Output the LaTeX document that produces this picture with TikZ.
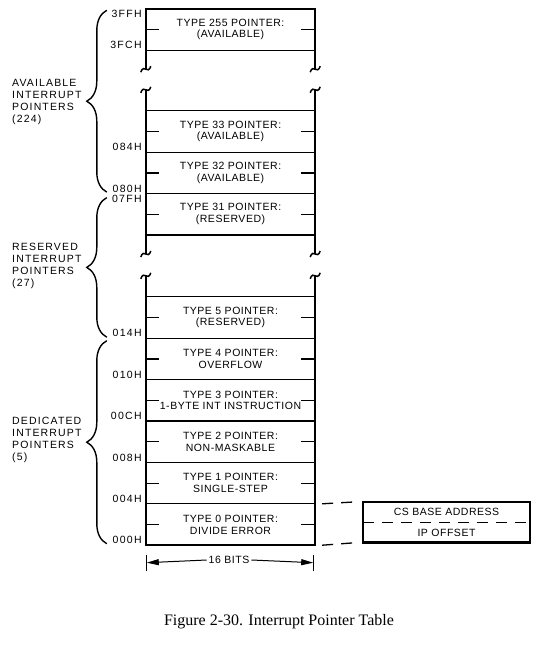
\documentclass[tikz,border=0pt]{standalone}
\usepackage{fontspec}
\setmainfont{Liberation Serif}
\setsansfont{Liberation Sans}[LetterSpace=5]
\usetikzlibrary{arrows.meta, positioning, decorations.pathreplacing}

\begin{document}
\begin{tikzpicture}[
			x=1pt, y=-1pt,
			every node/.style={font=\sffamily\fontsize{10.5}{11.8}\selectfont},
			slot/.style={minimum width=169pt, minimum height=41pt,
				inner sep=0pt, align=center},
			addr/.style={inner sep=1pt,
				font=\sffamily\fontsize{10.5}{11.8}\selectfont\addfontfeature{LetterSpace=12}},
			grp/.style={anchor=west, align=left, inner sep=0pt,
				font=\sffamily\fontsize{10.5}{11.8}\selectfont\addfontfeature{LetterSpace=11}},
			frame/.style={line width=2.4pt},
			rowline/.style={line width=1.2pt},
			brk/.style={line width=1.5pt},
			brc/.style={decorate, decoration={brace, amplitude=20pt},
				line width=1.4pt},
			dsh/.style={line width=1.3pt, dash pattern=on 11pt off 8pt},
			arr/.style={-{Triangle[length=12pt, width=6pt]}, line width=1pt},
			pics/brkmark/.style={code={
					\draw[brk] (-5,3) .. controls (-4,-1) and (-1,-1.5) .. (0,0)
					.. controls (1,1.5) and (4,1) .. (5,-3);}},
			]
			\useasboundingbox (0,0) rectangle (540,646);
			% =============================================================
			%  POINTER SLOTS
			% =============================================================
			% --- top of table ---
			\node[slot] (s255) at (230.5,29.5) {TYPE 255 POINTER:\\(AVAILABLE)};

			% --- available ---
			\node[slot] (s33) at (230.5,131.5) {TYPE 33 POINTER:\\(AVAILABLE)};
			\node[slot, below=0pt of s33] (s32) {TYPE 32 POINTER:\\(AVAILABLE)};

			% --- reserved ---
			\node[slot, below=0pt of s32] (s31) {TYPE 31 POINTER:\\(RESERVED)};
			\node[slot] (s5) at (230.5,317.5) {TYPE 5 POINTER:\\(RESERVED)};

			% --- dedicated ---
			\node[slot, below=0pt of s5] (s4) {TYPE 4 POINTER:\\OVERFLOW};
			\node[slot, below=0pt of s4] (s3) {TYPE 3 POINTER:\\1-BYTE INT INSTRUCTION};
			\node[slot, below=0pt of s3] (s2) {TYPE 2 POINTER:\\NON-MASKABLE};
			\node[slot, below=0pt of s2] (s1) {TYPE 1 POINTER:\\SINGLE-STEP};
			\node[slot, below=0pt of s1] (s0) {TYPE 0 POINTER:\\DIVIDE ERROR};

			% ---- FRAME with breaks ----
			\coordinate (bkL1) at ([yshift=-19pt]s255.south west);
			\coordinate (bkR1) at ([yshift=-19pt]s255.south east);
			\coordinate (bkL2) at ([yshift=21pt]s33.north west);
			\coordinate (bkR2) at ([yshift=21pt]s33.north east);
			\coordinate (bkL3) at ([yshift=-19pt]s31.south west);
			\coordinate (bkR3) at ([yshift=-19pt]s31.south east);
			\coordinate (bkL4) at ([yshift=21pt]s5.north west);
			\coordinate (bkR4) at ([yshift=21pt]s5.north east);

			\draw[frame] (bkL1) -- (s255.north west) -- (s255.north east) -- (bkR1);
			\draw[frame] (bkL2) -- (bkL3);
			\draw[frame] (bkR2) -- (bkR3);
			\draw[frame] (bkL4) -- (s0.south west) -- (s0.south east) -- (bkR4);
			\foreach \b in {bkL1,bkR1,bkL2,bkR2,bkL3,bkR3,bkL4,bkR4}
			\pic at (\b) {brkmark};

			% ---- row lines and mid ticks ----
			\draw[rowline] (s33.north west) -- (s33.north east);
			\draw[rowline] (s5.north west) -- (s5.north east);
			\foreach \n in {s255,s33,s32,s31,s5,s4,s3,s2,s1}
			\draw[rowline] (\n.south west) -- (\n.south east);
			\foreach \n in {s255,s33,s32,s31,s5,s4,s3,s2,s1,s0} {
				\draw[rowline] (\n.west) -- ++(13,0);
				\draw[rowline] (\n.east) -- ++(-14,0);
			}

			% ---- addresses ----
			\node[addr, anchor=north east] (a3FF) at ([xshift=-3pt]s255.north west) {3FFH};
			\node[addr, anchor=south east] (a3FC) at ([xshift=-3pt]s255.south west) {3FCH};
			\node[addr, anchor=south east] (a084) at ([xshift=-3pt]s33.south west) {084H};
			\node[addr, anchor=south east] (a080) at ([xshift=-3pt]s32.south west) {080H};
			\node[addr, anchor=north east] (a07F) at ([xshift=-3pt]s31.north west) {07FH};
			\node[addr, anchor=south east] (a014) at ([xshift=-3pt]s5.south west) {014H};
			\node[addr, anchor=south east] (a010) at ([xshift=-3pt]s4.south west) {010H};
			\node[addr, anchor=south east] (a00C) at ([xshift=-3pt]s3.south west) {00CH};
			\node[addr, anchor=south east] (a008) at ([xshift=-3pt]s2.south west) {008H};
			\node[addr, anchor=south east] (a004) at ([xshift=-3pt]s1.south west) {004H};
			\node[addr, anchor=south east] (a000) at ([xshift=-3pt]s0.south west) {000H};

			% =============================================================
			%  GROUP BRACES (left)
			% =============================================================
			\draw[brc] ([xshift=-39pt, yshift=1.5pt]s32.south west)
			-- ([xshift=-39pt, yshift=-1.5pt]s255.north west);
			\draw[brc] ([xshift=-39pt, yshift=1pt]s5.south west)
			-- ([xshift=-39pt, yshift=-4pt]s31.north west);
			\draw[brc] ([xshift=-39pt, yshift=1.5pt]s0.south west)
			-- ([xshift=-39pt, yshift=-2.5pt]s4.north west);

			\node[grp] (gavail) at (12,102) {AVAILABLE\\INTERRUPT\\POINTERS\\(224)};
			\node[grp] (gres) at (12,266) {RESERVED\\INTERRUPT\\POINTERS\\(27)};
			\node[grp] (gded) at (12,440) {DEDICATED\\INTERRUPT\\POINTERS\\(5)};

			% =============================================================
			%  WIDTH (bottom)
			% =============================================================
			\coordinate (bitsL) at ([xshift=1pt, yshift=-17.5pt]s0.south west);
			\coordinate (bitsR) at ([xshift=-2pt, yshift=-17.5pt]s0.south east);
			\draw[rowline] ([yshift=8pt]bitsL) -- ([yshift=-8pt]bitsL);
			\draw[rowline] ([yshift=8pt]bitsR) -- ([yshift=-8pt]bitsR);
			\node[inner sep=2pt] (bits) at (229,560) {16 BITS};
			\draw[arr] (bits.west) -- (bitsL);
			\draw[arr] (bits.east) -- (bitsR);

			% =============================================================
			%  VECTOR LAYOUT (right)
			% =============================================================
			\node[slot, minimum width=167pt, minimum height=20pt] (cs)
			at (446.5,512) {CS BASE ADDRESS};
			\node[slot, minimum width=167pt, minimum height=20pt,
			below=0pt of cs] (ip) {IP OFFSET};
			\draw[frame] (cs.north west) rectangle (ip.south east);
			\draw[dsh] (cs.south west) -- (cs.south east);
			\draw[dsh] ([xshift=7pt]s1.south east) -- ([xshift=-6pt]cs.north west);
			\draw[dsh] ([xshift=7pt]s0.south east) -- ([xshift=-6pt]ip.south west);

			% ---- caption ----
			\node[font=\fontsize{16}{19}\selectfont] (caption) at (279,622)
			{Figure 2-30. Interrupt Pointer Table};
		\end{tikzpicture}
\end{document}
